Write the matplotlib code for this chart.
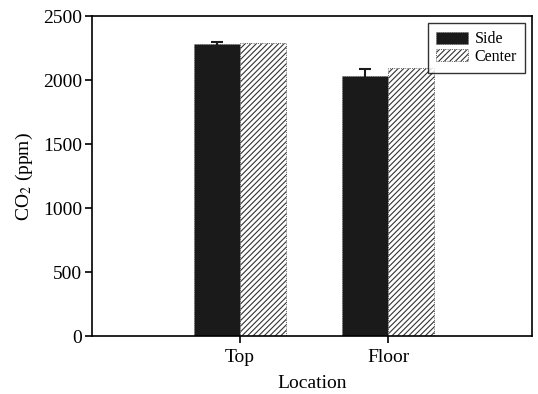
import numpy as np
import matplotlib
matplotlib.use("Agg")
import matplotlib.pyplot as plt

plt.rcParams['font.family'] = ['Liberation Serif', 'DejaVu Serif']
plt.rcParams['mathtext.fontset'] = 'stix'
plt.rcParams['hatch.linewidth'] = 0.8

# data
locations = ["Top", "Floor"]
side_vals = [2282, 2031]
side_err = [15, 55]
center_vals = [2290, 2094]

x = np.arange(len(locations))
w = 0.31

fig = plt.figure(figsize=(5.38, 3.94), dpi=100)
ax = fig.add_axes([0.171, 0.147, 0.818, 0.812])

ax.bar(x - w / 2, side_vals, w, color="#1a1a1a", edgecolor="#555555",
       linewidth=0.6, linestyle=":", label="Side",
       yerr=side_err, error_kw=dict(ecolor="#1a1a1a", capsize=4, elinewidth=1.5, capthick=1.5))
ax.bar(x + w / 2, center_vals, w, color="white", edgecolor="#333333",
       linewidth=0.6, linestyle=":", hatch="//////", label="Center")

ax.set_xlim(-1.0, 1.97)
ax.set_ylim(0, 2500)
ax.set_xticks(x)
ax.set_xticklabels(locations)
ax.set_yticks(np.arange(0, 2501, 500))
ax.tick_params(axis="both", direction="out", length=5, width=1.2, labelsize=14,
               top=False, right=False, pad=2)
ax.tick_params(axis="x", pad=4)
for s in ax.spines.values():
    s.set_linewidth(1.2)

ax.set_ylabel("CO$_2$ (ppm)", fontsize=14, labelpad=6)
ax.set_xlabel("Location", fontsize=14, labelpad=7)

leg = ax.legend(loc="upper right", fontsize=11.5, frameon=True, fancybox=False,
                edgecolor="black", handlelength=2.0, handleheight=0.8,
                handletextpad=0.4, borderpad=0.5, labelspacing=0.1,
                borderaxespad=0.45)
leg.get_frame().set_linewidth(1.0)

fig.savefig("out.png", dpi=100)
